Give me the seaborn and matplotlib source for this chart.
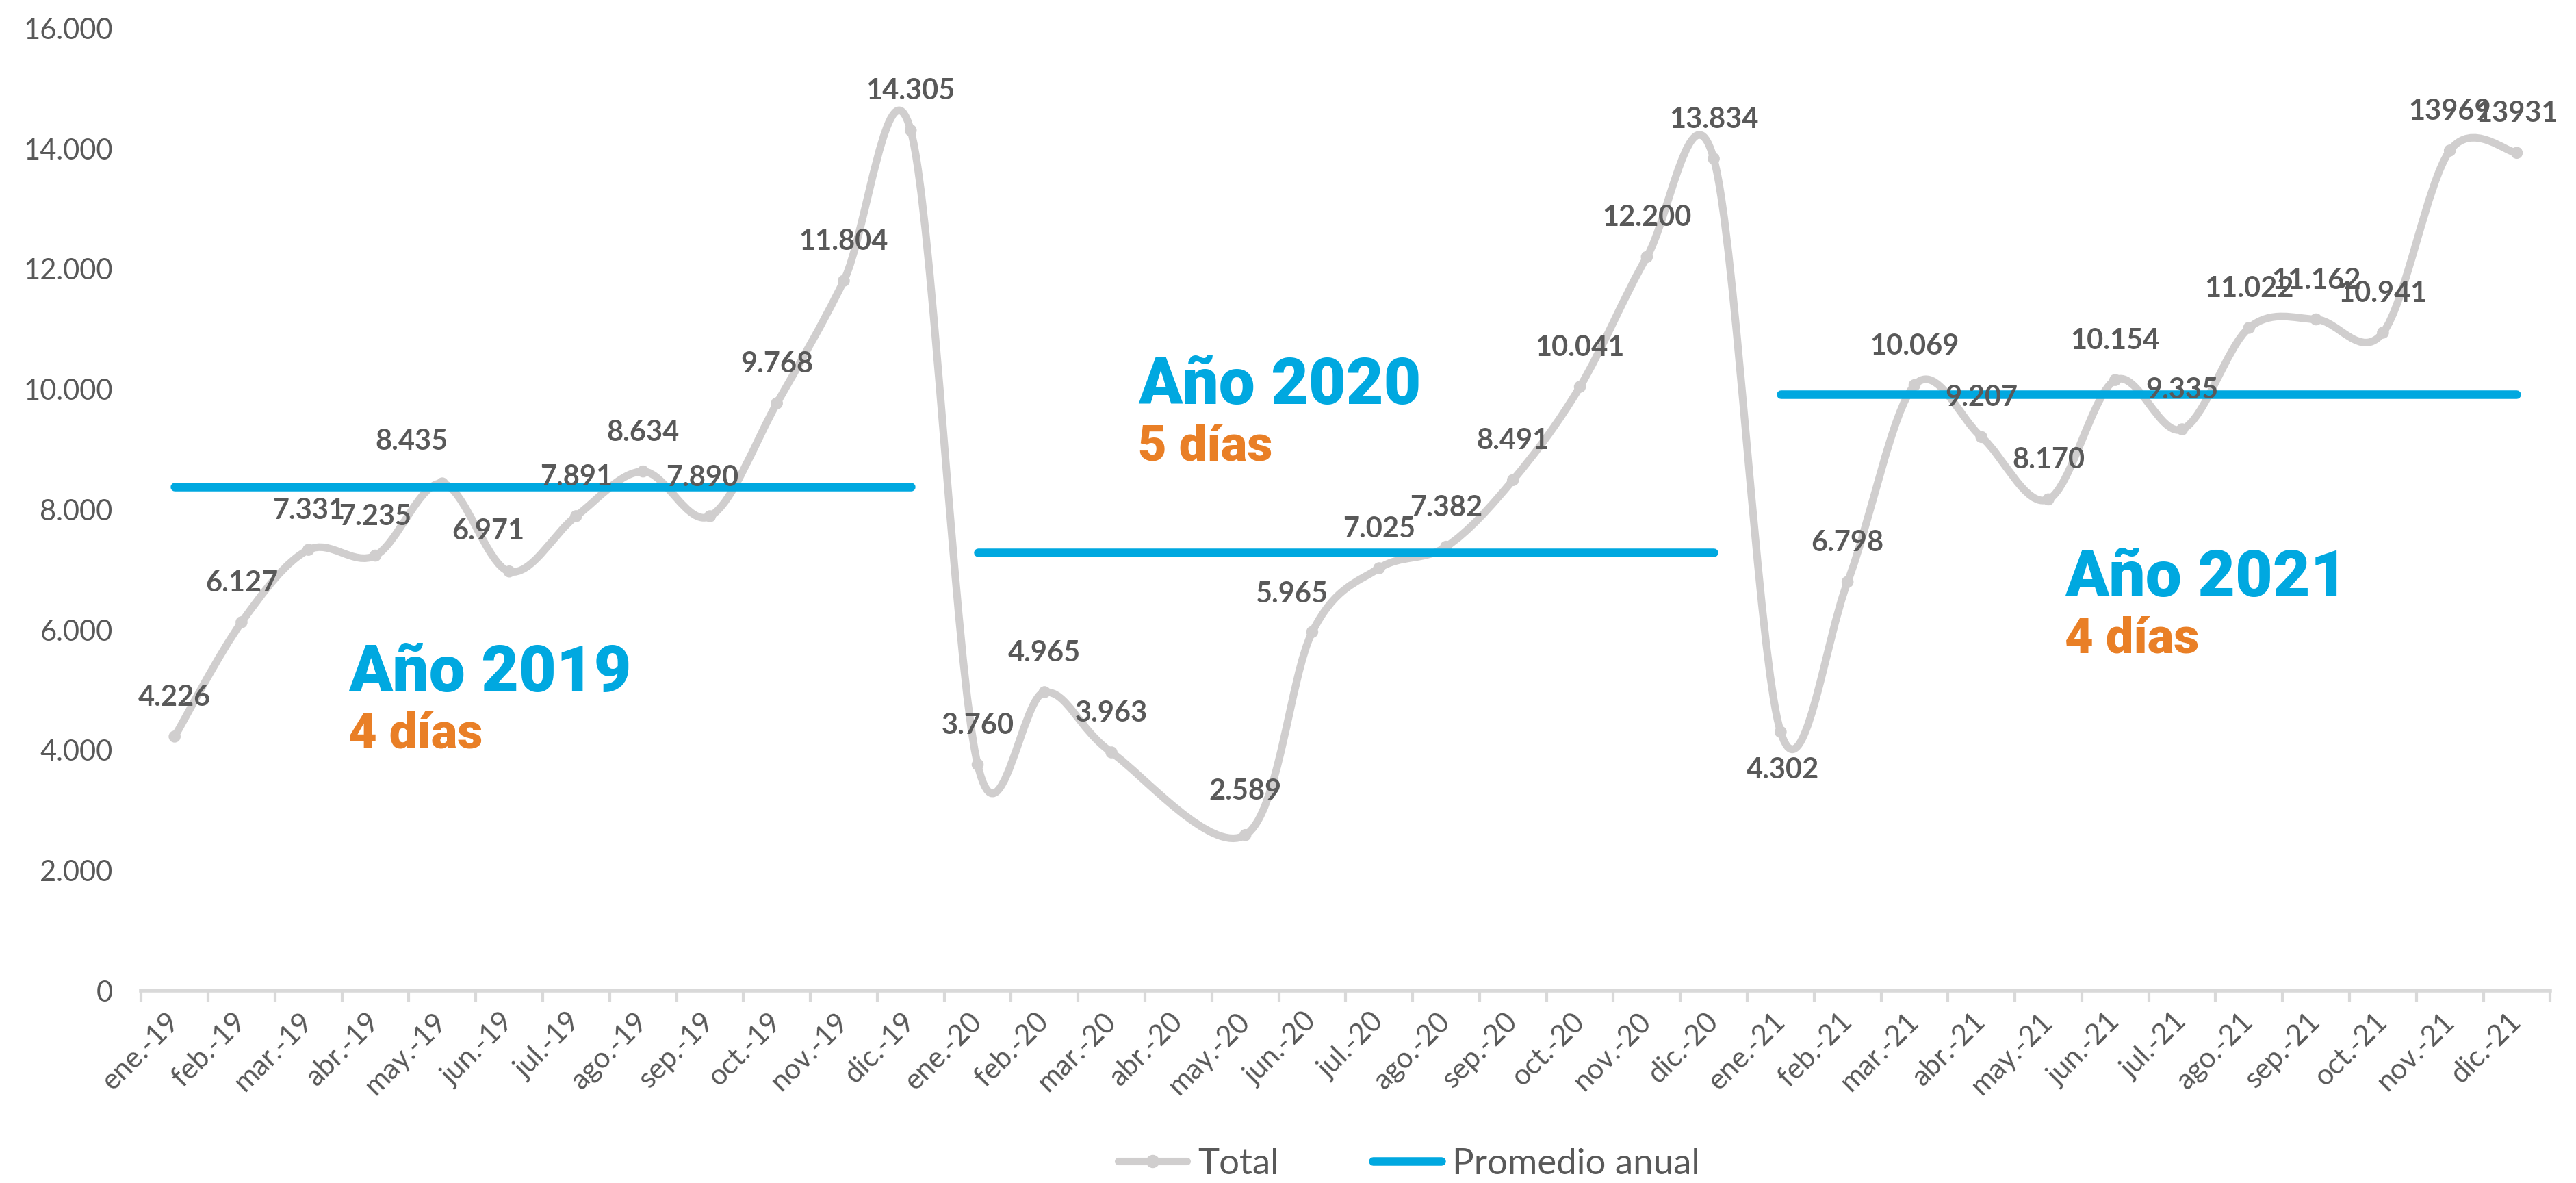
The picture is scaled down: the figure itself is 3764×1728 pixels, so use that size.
import numpy as np
import pandas as pd

import matplotlib
matplotlib.use('Agg')
import matplotlib.pyplot as plt
from matplotlib.path import Path
from matplotlib.patches import PathPatch
from matplotlib.lines import Line2D
import seaborn as sns

# monthly totals (abr.-20 has no value)
months = ['ene.', 'feb.', 'mar.', 'abr.', 'may.', 'jun.',
          'jul.', 'ago.', 'sep.', 'oct.', 'nov.', 'dic.']
years = ['19', '20', '21']
total_2019 = [4226, 6127, 7331, 7235, 8435, 6971, 7891, 8634, 7890, 9768, 11804, 14305]
total_2020 = [3760, 4965, 3963, np.nan, 2589, 5965, 7025, 7382, 8491, 10041, 12200, 13834]
total_2021 = [4302, 6798, 10069, 9207, 8170, 10154, 9335, 11022, 11162, 10941, 13969, 13931]
year_titles = ['Año 2019', 'Año 2020', 'Año 2021']
year_days = ['4 días', '5 días', '4 días']
y_ticks = [0, 2000, 4000, 6000, 8000, 10000, 12000, 14000, 16000]

GRAY = '#d0cece'
BLUE = '#00a8e0'
ORANGE = '#e97f26'
TXT = '#595959'

categories = [f"{m}-{y}" for y in years for m in months]
df = pd.DataFrame({
    'mes': categories,
    'x': np.arange(len(categories)),
    'anio': np.repeat(years, 12),
    'total': total_2019 + total_2020 + total_2021,
})
valid = df.dropna(subset=['total']).reset_index(drop=True)

# yearly averages, drawn from ene. to dic. of each year
avg = valid.groupby('anio')['total'].mean()
avg_df = pd.concat([
    pd.DataFrame({'x': [df.x[df.anio == y].min(), df.x[df.anio == y].max()],
                  'y': [avg[y], avg[y]], 'anio': y}) for y in years
])

sns.set_theme(style='white')
plt.rcParams['font.family'] = ['Lato', 'DejaVu Sans']

fig = plt.figure(figsize=(18.82, 8.64), dpi=200)
ax = fig.add_axes([0.0548, 0.1625, 0.9352, 0.8135])

# smoothed line like Excel: cubic bezier through the points (Catmull-Rom)
pts = valid[['x', 'total']].to_numpy(dtype=float)
n = len(pts)
verts = [tuple(pts[0])]
codes = [Path.MOVETO]
for i in range(n - 1):
    p0, p1 = pts[max(i - 1, 0)], pts[i]
    p2, p3 = pts[i + 1], pts[min(i + 2, n - 1)]
    verts += [tuple(p1 + (p2 - p0) / 6), tuple(p2 - (p3 - p1) / 6), tuple(p2)]
    codes += [Path.CURVE4] * 3
ax.add_patch(PathPatch(Path(verts, codes), fill=False, edgecolor=GRAY,
                       lw=4, capstyle='round', joinstyle='round', zorder=2))
sns.scatterplot(data=valid, x='x', y='total', color=GRAY, s=40,
                edgecolor='none', ax=ax, zorder=3, legend=False)

sns.lineplot(data=avg_df, x='x', y='y', units='anio', estimator=None,
             color=BLUE, lw=4.5, solid_capstyle='round', ax=ax, zorder=4,
             legend=False)

# data labels (a few nudged as in the original)
nudges = {'may.-19': (-16, 22), 'jun.-19': (-11, 21), 'sep.-19': (-4, 20),
          'may.-20': (0, 23), 'jun.-20': (-11, 20), 'ene.-21': (1, -20)}
plain = {'nov.-21', 'dic.-21'}
for _, r in valid.iterrows():
    v = int(r.total)
    txt = str(v) if r.mes in plain else f"{v:,}".replace(',', '.')
    dx, dy = nudges.get(r.mes, (0, 20.5))
    ax.annotate(txt, (r.x, r.total), xytext=(dx, dy), textcoords='offset points',
                ha='center', va='center', fontsize=15, fontweight='bold',
                color=TXT, zorder=5)

# year notes
note_pos = [(2.6, 5270, 4260), (14.4, 10050, 9040), (28.25, 6850, 5840)]
for (x, y1, y2), t1, t2 in zip(note_pos, year_titles, year_days):
    ax.text(x, y1, t1, ha='left', va='center', fontsize=34, fontweight='heavy',
            color=BLUE, family=['Roboto', 'DejaVu Sans'])
    ax.text(x, y2, t2, ha='left', va='center', fontsize=26, fontweight='heavy',
            color=ORANGE, family=['Roboto', 'DejaVu Sans'])

ax.set_xlim(-0.5, len(categories) - 0.5)
ax.set_ylim(0, 16000)
ax.set_yticks(y_ticks)
ax.set_yticklabels([f"{t:,}".replace(',', '.') for t in y_ticks])
ax.set_xticks(df.x)
ax.set_xticklabels(categories, rotation=45, ha='right', rotation_mode='anchor',
                   va='center')
ax.set_xticks(np.arange(-0.5, len(categories)), minor=True)
ax.tick_params(axis='x', which='major', length=0, pad=14, labelsize=15,
               labelcolor=TXT)
ax.tick_params(axis='x', which='minor', length=6, width=1.5, color='#d9d9d9',
               bottom=True)
ax.tick_params(axis='y', length=0, pad=15, labelsize=15, labelcolor=TXT)
ax.set_xlabel('')
ax.set_ylabel('')
ax.grid(False)
for s in ['left', 'top', 'right']:
    ax.spines[s].set_visible(False)
ax.spines['bottom'].set_color('#d9d9d9')
ax.spines['bottom'].set_linewidth(2)

handles = [Line2D([], [], color=GRAY, lw=4, marker='o', markersize=6,
                  solid_capstyle='round'),
           Line2D([], [], color=BLUE, lw=4.5, solid_capstyle='round')]
fig.legend(handles, ['Total', 'Promedio anual'], loc='center',
           bbox_to_anchor=(0.547, 0.016), ncol=2, frameon=False,
           fontsize=19, labelcolor=TXT, handlelength=1.9, handletextpad=0.3,
           columnspacing=2.6)

fig.savefig('out.png', dpi=200, facecolor='white')
plt.close(fig)
